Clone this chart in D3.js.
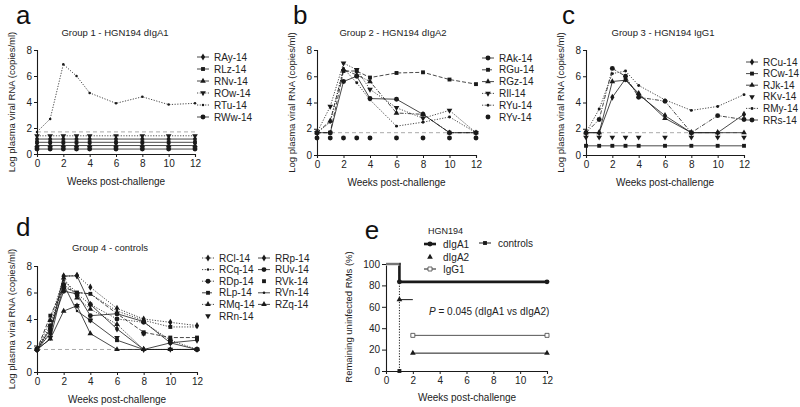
<!DOCTYPE html>
<html><head><meta charset="utf-8">
<script src="https://cdn.jsdelivr.net/npm/d3@7"></script>
<style>
body{margin:0;background:#fff;}
svg{display:block;font-family:"Liberation Sans",Arial,sans-serif;}
</style></head>
<body><svg id="c" width="800" height="407"></svg>
<script>
// ---------------- DATA ----------------
const weeks = [0,1,2,3,4,6,8,10,12];
const vlTicks = [0,2,4,6,8];
const weekTicks = [0,2,4,6,8,10,12];
const lodValue = 1.7;

// Group 1 - HGN194 dIgA1
const g1Names = ["RAy-14","RLz-14","RNv-14","ROw-14","RTu-14","RWw-14"];
const g1RAy = [1.15,1.15,1.15,1.15,1.15,1.15,1.15,1.15,1.15];
const g1RLz = [0.9,0.9,0.9,0.9,0.9,0.9,0.9,0.9,0.9];
const g1RNv = [0.65,0.65,0.65,0.65,0.65,0.65,0.65,0.65,0.65];
const g1ROw = [1.4,1.4,1.4,1.4,1.4,1.4,1.4,1.4,1.4];
const g1RTu = [1.7,2.7,6.9,6.0,4.7,3.9,4.4,3.8,3.9];
const g1RWw = [0.38,0.38,0.38,0.38,0.38,0.38,0.38,0.38,0.38];

// Group 2 - HGN194 dIgA2
const g2Names = ["RAk-14","RGu-14","RGz-14","RIl-14","RYu-14","RYv-14"];
const g2RAk = [1.7,1.7,5.6,6.0,4.3,4.25,3.1,1.7,1.7];
const g2RGu = [1.7,1.7,6.4,6.4,5.9,6.25,6.3,5.75,5.4];
const g2RGz = [1.7,2.6,6.5,6.1,5.6,3.2,3.1,1.7,1.7];
const g2RIl = [1.7,3.7,7.0,6.5,5.0,3.6,2.8,3.4,1.7];
const g2RYu = [1.7,2.5,6.6,5.5,4.2,2.2,2.5,2.9,1.7];
const g2RYv = [1.3,1.3,1.3,1.3,1.3,1.3,1.3,1.3,1.3];

// Group 3 - HGN194 IgG1
const g3Names = ["RCu-14","RCw-14","RJk-14","RKv-14","RMy-14","RRs-14"];
const g3RCu = [1.7,1.7,4.4,5.8,4.6,3.0,1.7,1.7,3.1];
const g3RCw = [0.7,0.7,0.7,0.7,0.7,0.7,0.7,0.7,0.7];
const g3RJk = [1.7,1.7,5.6,5.7,4.7,2.8,1.7,1.7,1.7];
const g3RKv = [1.35,1.35,1.35,1.35,1.35,1.35,1.35,1.35,1.35];
const g3RMy = [1.7,3.5,6.2,6.4,5.3,4.2,3.4,3.7,4.6];
const g3RRs = [1.7,2.7,6.6,6.0,4.4,4.1,1.7,3.0,2.7];

// Group 4 - controls
const g4Names = ["RCl-14","RCq-14","RDp-14","RLp-14","RMq-14","RRn-14","RRp-14","RUv-14","RVk-14","RVn-14","RZq-14"];
const g4RCl = [1.7,3.3,7.2,7.3,6.4,4.8,4.0,3.75,3.5];
const g4RCq = [1.7,3.0,6.9,6.0,5.9,4.6,3.9,3.4,3.4];
const g4RDp = [1.7,3.5,6.6,5.9,5.1,4.0,3.75,2.4,1.7];
const g4RLp = [1.7,4.25,6.4,6.0,5.9,4.4,3.0,2.6,2.6];
const g4RMq = [1.7,3.9,7.1,5.6,4.75,3.6,1.7,1.7,1.7];
const g4RRn = [1.7,2.6,6.25,5.0,3.9,2.6,2.9,1.7,1.7];
const g4RRp = [1.7,2.9,7.25,7.25,5.1,3.25,1.7,2.2,2.4];
const g4RUv = [1.7,3.25,6.1,5.9,4.25,4.4,3.8,2.2,1.7];
const g4RVk = [1.7,3.0,6.4,5.8,3.9,2.4,2.9,3.4,2.5];
const g4RVn = [1.7,2.5,6.6,4.6,3.9,2.4,1.7,1.7,1.7];
const g4RZq = [1.7,2.5,4.6,5.0,2.9,1.7,1.7,1.7,1.7];

// Panel e - Kaplan-Meier
const eNames = ["dIgA1","dIgA2","IgG1","controls"];
const eTicksY = [0,20,40,60,80,100];
const eDIgA1T = [0,1,12];   const eDIgA1P = [100,83.3,83.3];
const eDIgA2T = [1,2,12];   const eDIgA2P = [66.7,16.7,16.7];
const eIgG1T  = [2,12];     const eIgG1P  = [33.3,33.3];
const eCtrlT  = [0,1];      const eCtrlP  = [100,0];
const pText = "= 0.045 (dIgA1 vs dIgA2)";

// ---------------- DRAW ----------------
const svg = d3.select("#c");
const INK = "#1a1a1a";
const FONT = "Liberation Sans, Arial, sans-serif";

const dashes = {solid:null, dash:"4,2", dot:"1.2,1.5", dashdot:"4,1.5,1,1.5", none:null};

function marker(g, shape, x, y) {
  let sym, size, rot = 0, fill = INK, stroke = "none";
  switch (shape) {
    case "diamond": sym = d3.symbolDiamond; size = 15; break;
    case "square": sym = d3.symbolSquare; size = 15; break;
    case "triangle": sym = d3.symbolTriangle; size = 14; break;
    case "tridown": sym = d3.symbolTriangle; size = 14; rot = 180; break;
    case "dot": sym = d3.symbolCircle; size = 7; break;
    case "circle": sym = d3.symbolCircle; size = 19; break;
    case "small": sym = d3.symbolCircle; size = 5; break;
    case "osquare": sym = d3.symbolSquare; size = 16; fill = "#fff"; stroke = "#555"; break;
    default: return;
  }
  g.append("path").attr("d", d3.symbol(sym, size)())
    .attr("transform", `translate(${x},${y}) rotate(${rot})`)
    .attr("fill", fill).attr("stroke", stroke).attr("stroke-width", 0.9);
}

function lineStyle(sel, dash, w) {
  sel.attr("fill","none").attr("stroke", INK).attr("stroke-width", w || 0.8);
  if (dashes[dash]) sel.attr("stroke-dasharray", dashes[dash]);
}

function panel(cfg) {
  const g = svg.append("g");
  const x = d3.scaleLinear().domain([0,12]).range([cfg.x0, cfg.x1]);
  const y = d3.scaleLinear().domain([0,8]).range([cfg.yb, cfg.yt]);
  const ax = g.append("g").attr("transform", `translate(0,${cfg.yb})`)
    .call(d3.axisBottom(x).tickValues(weekTicks).tickSize(3).tickPadding(3));
  const ay = g.append("g").attr("transform", `translate(${cfg.x0},0)`)
    .call(d3.axisLeft(y).tickValues(vlTicks).tickSize(3).tickPadding(2));
  [ax, ay].forEach(a => {
    a.select(".domain").attr("stroke", INK).attr("stroke-width", 1.1);
    a.selectAll(".tick line").attr("stroke", INK).attr("stroke-width", 1);
    a.selectAll("text").attr("font-family", FONT).attr("font-size", 10).attr("fill", "#222");
  });
  g.append("line").attr("x1", x(0)).attr("x2", x(12)).attr("y1", y(lodValue)).attr("y2", y(lodValue))
    .attr("stroke","#aaa").attr("stroke-width",1).attr("stroke-dasharray","4,3");
  cfg.series.forEach(s => {
    const pts = weeks.map((w,i) => [x(w), y(s.v[i])]);
    if (s.dash !== "none") {
      lineStyle(g.append("path").attr("d", d3.line()(pts)), s.dash);
    }
    pts.forEach(p => marker(g, s.m, p[0], p[1]));
  });
  g.append("text").attr("x", cfg.tx).attr("y", cfg.ty).attr("text-anchor","middle")
    .attr("font-size", 9.5).attr("fill","#222").text(cfg.title);
  g.append("text").attr("x", (cfg.x0+cfg.x1)/2).attr("y", cfg.yb+31).attr("text-anchor","middle")
    .attr("font-size", 10).attr("fill","#222").text("Weeks post-challenge");
  g.append("text").attr("transform", `translate(${cfg.x0-22},${(cfg.yb+cfg.yt)/2}) rotate(-90)`)
    .attr("text-anchor","middle").attr("font-size", 9.5).attr("fill","#222")
    .text("Log plasma viral RNA (copies/ml)");
  g.append("text").attr("x", cfg.lx).attr("y", cfg.ly).attr("font-size", 26).attr("fill","#111").text(cfg.letter);
  cfg.series.forEach((s,i) => {
    const col = cfg.legCols ? Math.floor(i / cfg.legCols.rows) : 0;
    const row = cfg.legCols ? i % cfg.legCols.rows : i;
    const mx = cfg.legX + (cfg.legCols ? col*cfg.legCols.dx : 0);
    const my = cfg.legY + row*cfg.legDy;
    if (s.dash !== "none")
      lineStyle(g.append("line").attr("x1", mx-6).attr("x2", mx+6).attr("y1", my).attr("y2", my), s.dash);
    marker(g, s.m, mx, my);
    g.append("text").attr("x", mx+11).attr("y", my+3.5).attr("font-size", 10).attr("fill","#222").text(s.name);
  });
}

panel({x0:37, x1:195, yb:154, yt:50, title:"Group 1 - HGN194 dIgA1", tx:115, ty:36,
  letter:"a", lx:16, ly:24, legX:203, legY:57, legDy:12,
  series:[
    {name:g1Names[0], v:g1RAy, m:"diamond", dash:"solid"},
    {name:g1Names[1], v:g1RLz, m:"square", dash:"solid"},
    {name:g1Names[2], v:g1RNv, m:"triangle", dash:"solid"},
    {name:g1Names[3], v:g1ROw, m:"tridown", dash:"dot"},
    {name:g1Names[4], v:g1RTu, m:"small", dash:"dot"},
    {name:g1Names[5], v:g1RWw, m:"circle", dash:"solid"}
  ]});

panel({x0:317, x1:476, yb:155, yt:50, title:"Group 2 - HGN194 dIgA2", tx:393, ty:36,
  letter:"b", lx:293, ly:24, legX:488, legY:58, legDy:11.8,
  series:[
    {name:g2Names[0], v:g2RAk, m:"circle", dash:"solid"},
    {name:g2Names[1], v:g2RGu, m:"square", dash:"dash"},
    {name:g2Names[2], v:g2RGz, m:"triangle", dash:"dashdot"},
    {name:g2Names[3], v:g2RIl, m:"tridown", dash:"dot"},
    {name:g2Names[4], v:g2RYu, m:"dot", dash:"dot"},
    {name:g2Names[5], v:g2RYv, m:"circle", dash:"none"}
  ]});

panel({x0:586, x1:744, yb:155, yt:50, title:"Group 3 - HGN194 IgG1", tx:663, ty:36,
  letter:"c", lx:562, ly:24, legX:752, legY:62, legDy:11.6,
  series:[
    {name:g3Names[0], v:g3RCu, m:"diamond", dash:"solid"},
    {name:g3Names[1], v:g3RCw, m:"square", dash:"solid"},
    {name:g3Names[2], v:g3RJk, m:"triangle", dash:"solid"},
    {name:g3Names[3], v:g3RKv, m:"tridown", dash:"none"},
    {name:g3Names[4], v:g3RMy, m:"dot", dash:"dot"},
    {name:g3Names[5], v:g3RRs, m:"circle", dash:"dashdot"}
  ]});

panel({x0:37, x1:197, yb:372, yt:266, title:"Group 4 - controls", tx:110, ty:251,
  letter:"d", lx:16, ly:236, legX:208, legY:258, legDy:11.6, legCols:{rows:6, dx:56},
  series:[
    {name:g4Names[0], v:g4RCl, m:"diamond", dash:"dot"},
    {name:g4Names[1], v:g4RCq, m:"small", dash:"dot"},
    {name:g4Names[2], v:g4RDp, m:"circle", dash:"dot"},
    {name:g4Names[3], v:g4RLp, m:"square", dash:"dash"},
    {name:g4Names[4], v:g4RMq, m:"triangle", dash:"dot"},
    {name:g4Names[5], v:g4RRn, m:"tridown", dash:"none"},
    {name:g4Names[6], v:g4RRp, m:"diamond", dash:"solid"},
    {name:g4Names[7], v:g4RUv, m:"circle", dash:"solid"},
    {name:g4Names[8], v:g4RVk, m:"square", dash:"none"},
    {name:g4Names[9], v:g4RVn, m:"small", dash:"solid"},
    {name:g4Names[10], v:g4RZq, m:"triangle", dash:"solid"}
  ]});

// ---- Panel e ----
(function(){
  const g = svg.append("g");
  const x = d3.scaleLinear().domain([0,12]).range([386,547]);
  const y = d3.scaleLinear().domain([0,100]).range([371,264]);
  const ax = g.append("g").attr("transform","translate(0,371)")
    .call(d3.axisBottom(x).tickValues(weekTicks).tickSize(3).tickPadding(3));
  const ay = g.append("g").attr("transform","translate(386,0)")
    .call(d3.axisLeft(y).tickValues(eTicksY).tickSize(4).tickPadding(2));
  [ax, ay].forEach(a => {
    a.select(".domain").attr("stroke", INK).attr("stroke-width", 1.1);
    a.selectAll(".tick line").attr("stroke", INK);
    a.selectAll("text").attr("font-family", FONT).attr("font-size", 10).attr("fill","#222");
  });
  const ctrlPts = eCtrlT.map((t,i)=>[x(t), y(eCtrlP[i])]);
  lineStyle(g.append("path").attr("d", d3.line().curve(d3.curveStepAfter)(ctrlPts)), "dot", 1);
  marker(g, "square", x(eCtrlT[1]), y(eCtrlP[1]));
  g.append("line").attr("x1", x(eIgG1T[0])).attr("x2", x(eIgG1T[1]))
    .attr("y1", y(eIgG1P[0])).attr("y2", y(eIgG1P[1])).attr("stroke","#555").attr("stroke-width",1);
  eIgG1T.forEach((t,i)=>marker(g, "osquare", x(t), y(eIgG1P[i])));
  for (let i=0;i<eDIgA2T.length-1;i++) {
    lineStyle(g.append("line").attr("x1", x(eDIgA2T[i])).attr("x2", x(eDIgA2T[i+1]))
      .attr("y1", y(eDIgA2P[i])).attr("y2", y(eDIgA2P[i])), "solid", 1);
  }
  eDIgA2T.forEach((t,i)=>marker(g, "triangle", x(t), y(eDIgA2P[i])));
  const a1 = eDIgA1T.map((t,i)=>[x(t), y(eDIgA1P[i])]);
  lineStyle(g.append("path").attr("d", d3.line().curve(d3.curveStepAfter)(a1)), "solid", 2.6);
  g.append("line").attr("x1", x(0)).attr("x2", x(1)).attr("y1", y(100)).attr("y2", y(100))
    .attr("stroke","#fff").attr("stroke-width",3);
  lineStyle(g.append("line").attr("x1", x(0)).attr("x2", x(1)+1).attr("y1", y(100)).attr("y2", y(100)), "solid", 1.2);
  marker(g, "circle", x(1), y(83.3));
  marker(g, "circle", x(12), y(83.3));
  g.append("text").attr("x", 372).attr("y", 239).attr("text-anchor","middle").attr("font-size", 26).attr("fill","#111").text("e");
  g.append("text").attr("transform","translate(352,317) rotate(-90)").attr("text-anchor","middle")
    .attr("font-size", 9.5).attr("fill","#222").text("Remaining uninfected RMs (%)");
  g.append("text").attr("x", 467).attr("y", 401).attr("text-anchor","middle").attr("font-size", 10).attr("fill","#222").text("Weeks post-challenge");
  const pt = g.append("text").attr("x", 429).attr("y", 315).attr("font-size", 10).attr("fill","#222");
  pt.append("tspan").attr("font-style","italic").text("P");
  pt.append("tspan").text(" " + pText);
  g.append("text").attr("x", 428).attr("y", 234).attr("font-size", 9).attr("fill","#222").text("HGN194");
  const leg = [
    {n:eNames[0], x:430, y:244, m:"circle", w:2.6, line:true},
    {n:eNames[1], x:430, y:257, m:"triangle", line:false},
    {n:eNames[2], x:430, y:269, m:"osquare", w:1, line:true},
    {n:eNames[3], x:485, y:243, m:"square", w:1, line:true}
  ];
  leg.forEach(l => {
    if (l.line) lineStyle(g.append("line").attr("x1", l.x-6).attr("x2", l.x+6).attr("y1", l.y).attr("y2", l.y), "solid", l.w);
    marker(g, l.m, l.x, l.y);
    g.append("text").attr("x", l.x+13).attr("y", l.y+3.5).attr("font-size", 10).attr("fill","#222").text(l.n);
  });
})();
</script></body></html>
